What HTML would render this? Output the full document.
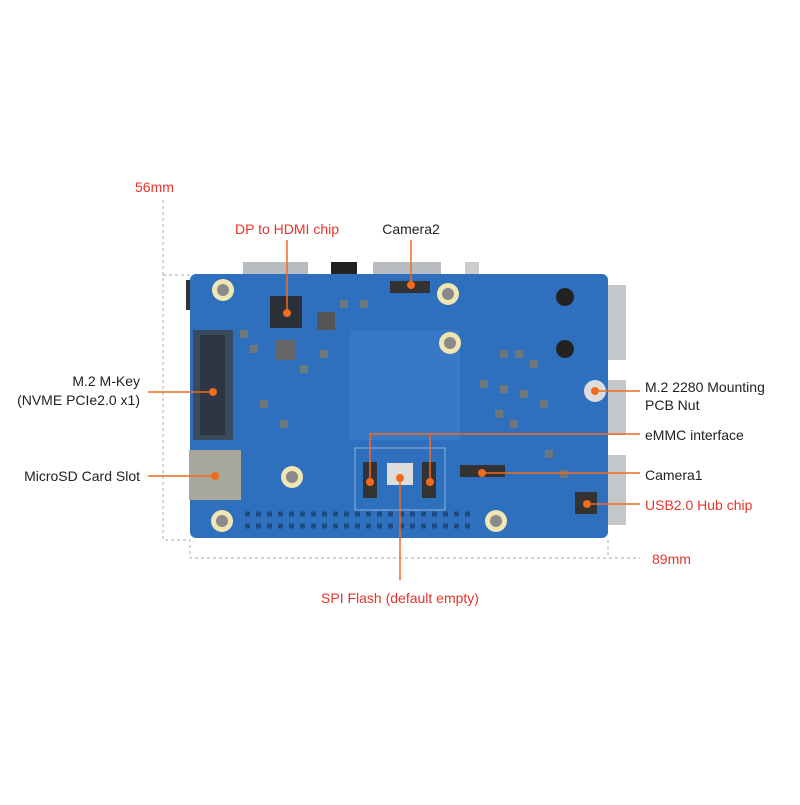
<!DOCTYPE html>
<html><head><style>
body{margin:0;background:#fff;width:800px;height:800px;overflow:hidden}
text{font-family:"Liberation Sans",sans-serif;font-size:14px}
</style></head><body>
<svg width="800" height="800" viewBox="0 0 800 800">
<rect x="243" y="262" width="65" height="16" fill="#b8bcc0"/>
<rect x="331" y="262" width="26" height="16" fill="#222"/>
<rect x="373" y="262" width="68" height="16" fill="#b8bcc0"/>
<rect x="465" y="262" width="14" height="16" fill="#ccc"/>
<rect x="606" y="285" width="20" height="75" fill="#c4c7ca"/>
<rect x="606" y="380" width="20" height="55" fill="#c4c7ca"/>
<rect x="606" y="455" width="20" height="70" fill="#c4c7ca"/>
<rect x="186" y="280" width="8" height="30" fill="#333"/>
<rect x="190" y="274" width="418" height="264" rx="6" fill="#2e70bd"/>
<rect x="350" y="330" width="110" height="110" fill="#3a7cc6" opacity="0.8"/>
<rect x="193" y="330" width="40" height="110" fill="#3a4a5e"/>
<rect x="200" y="335" width="25" height="100" fill="#2d3644"/>
<rect x="189" y="450" width="52" height="50" fill="#a8a89c"/>
<rect x="270" y="296" width="32" height="32" fill="#2b2f38"/>
<rect x="317" y="312" width="18" height="18" fill="#555"/>
<rect x="276" y="340" width="20" height="20" fill="#666"/>
<rect x="390" y="281" width="40" height="12" fill="#333"/>
<rect x="460" y="465" width="45" height="12" fill="#333"/>
<rect x="575" y="492" width="22" height="22" fill="#333"/>
<rect x="355" y="448" width="90" height="62" fill="none" stroke="#8fb2dc" stroke-width="1"/>
<rect x="363" y="462" width="14" height="36" fill="#333"/>
<rect x="422" y="462" width="14" height="36" fill="#333"/>
<rect x="387" y="463" width="26" height="22" fill="#ddd"/>
<g fill="#8a7a60" opacity="0.7">
<rect x="500" y="350" width="8" height="8"/><rect x="515" y="350" width="8" height="8"/><rect x="530" y="360" width="8" height="8"/><rect x="480" y="380" width="8" height="8"/><rect x="500" y="385" width="8" height="8"/><rect x="520" y="390" width="8" height="8"/><rect x="540" y="400" width="8" height="8"/><rect x="495" y="410" width="8" height="8"/><rect x="510" y="420" width="8" height="8"/><rect x="240" y="330" width="8" height="8"/><rect x="250" y="345" width="8" height="8"/><rect x="300" y="365" width="8" height="8"/><rect x="320" y="350" width="8" height="8"/><rect x="340" y="300" width="8" height="8"/><rect x="360" y="300" width="8" height="8"/><rect x="260" y="400" width="8" height="8"/><rect x="280" y="420" width="8" height="8"/><rect x="545" y="450" width="8" height="8"/><rect x="560" y="470" width="8" height="8"/>
</g>
<circle cx="565" cy="297" r="9" fill="#222"/>
<circle cx="565" cy="349" r="9" fill="#222"/>
<circle cx="595" cy="391" r="11" fill="#ddd"/>
<g fill="#f0e6b4"><circle cx="223" cy="290" r="11"/><circle cx="448" cy="294" r="11"/><circle cx="450" cy="343" r="11"/><circle cx="292" cy="477" r="11"/><circle cx="222" cy="521" r="11"/><circle cx="496" cy="521" r="11"/></g>
<g fill="#8a8a8a"><circle cx="223" cy="290" r="6"/><circle cx="448" cy="294" r="6"/><circle cx="450" cy="343" r="6"/><circle cx="292" cy="477" r="6"/><circle cx="222" cy="521" r="6"/><circle cx="496" cy="521" r="6"/></g>
<g stroke="#1d4a80" stroke-width="5" stroke-dasharray="5,6">
<path d="M245 514 H475"/><path d="M245 526 H475"/>
</g>
<g stroke="#aaa" stroke-dasharray="3,3" fill="none">
<path d="M163 200 V540 H190 V558 H640"/>
<path d="M163 275 H190"/>
<path d="M608 540 V558"/>
</g>
<text x="135" y="192" fill="#e8332a">56mm</text>
<text x="652" y="564" fill="#e8332a">89mm</text>
<g stroke="#f26b1d" stroke-width="1.5" fill="none">
<path d="M287 240 V313"/>
<path d="M411 240 V285"/>
<path d="M148 392 H213"/>
<path d="M148 476 H215"/>
<path d="M595 391 H640"/>
<path d="M370 482 V434 H640 M430 434 V482"/>
<path d="M482 473 H640"/>
<path d="M587 504 H640"/>
<path d="M400 478 V580"/>
</g>
<g fill="#f26b1d">
<circle cx="287" cy="313" r="4"/><circle cx="411" cy="285" r="4"/><circle cx="213" cy="392" r="4"/><circle cx="215" cy="476" r="4"/><circle cx="595" cy="391" r="4"/><circle cx="370" cy="482" r="4"/><circle cx="430" cy="482" r="4"/><circle cx="482" cy="473" r="4"/><circle cx="587" cy="504" r="4"/><circle cx="400" cy="478" r="4"/>
</g>
<text x="287" y="234" text-anchor="middle" fill="#e8332a">DP to HDMI chip</text>
<text x="411" y="234" text-anchor="middle" fill="#222">Camera2</text>
<text x="140" y="386" text-anchor="end" fill="#222">M.2 M-Key</text>
<text x="140" y="405" text-anchor="end" fill="#222">(NVME PCIe2.0 x1)</text>
<text x="140" y="481" text-anchor="end" fill="#222">MicroSD Card Slot</text>
<text x="645" y="392" fill="#222">M.2 2280 Mounting</text>
<text x="645" y="410" fill="#222">PCB Nut</text>
<text x="645" y="440" fill="#222">eMMC interface</text>
<text x="645" y="480" fill="#222">Camera1</text>
<text x="645" y="510" fill="#e8332a">USB2.0 Hub chip</text>
<text x="400" y="603" text-anchor="middle" fill="#e8332a">SPI Flash (default empty)</text>
</svg>
</body></html>
